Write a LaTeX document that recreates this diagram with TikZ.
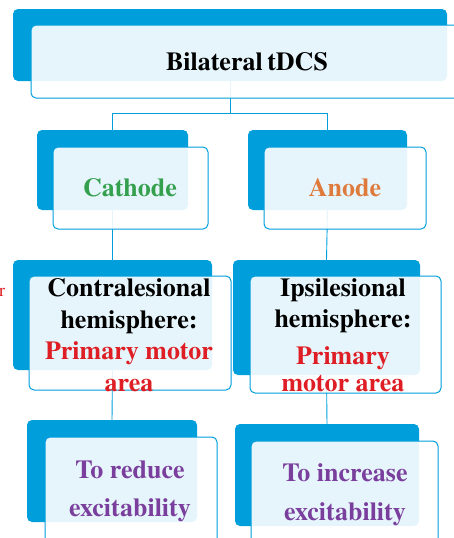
\documentclass[tikz,border=0pt]{standalone}
\usepackage{fontspec}
\setmainfont{TeX Gyre Termes}
\definecolor{tblue}{RGB}{0,158,219}
\definecolor{tgreen}{RGB}{52,160,78}
\definecolor{torange}{RGB}{222,122,60}
\definecolor{tred}{RGB}{222,30,36}
\definecolor{tpurple}{RGB}{122,62,157}
\begin{document}
\begin{tikzpicture}[x=1pt,y=-1pt,
  backbox/.style={fill=tblue, rounded corners=5pt, inner sep=0pt, outer sep=0pt},
  frontbox/.style={draw=tblue, line width=1pt, fill=white, fill opacity=0.9, rounded corners=5pt, inner sep=0pt, outer sep=0pt},
  lbl/.style={font=\rmfamily\bfseries\fontsize{26}{31.5}\selectfont, align=center, inner sep=0pt},
  link/.style={draw=tblue, line width=0.9pt}]
\useasboundingbox (0,0) rectangle (454,538);
\clip (0,0) rectangle (454,538);

% back panels
\node[backbox, minimum width=434pt, minimum height=72pt] (topB) at (230,45) {};
\node[backbox, minimum width=151pt, minimum height=80pt] (catB) at (112.5,170) {};
\node[backbox, minimum width=159pt, minimum height=80pt] (anoB) at (327.5,170) {};
\node[backbox, minimum width=199pt, minimum height=110pt] (conB) at (112.5,315) {};
\node[backbox, minimum width=187pt, minimum height=115pt] (ipsB) at (326.5,317.5) {};
\node[backbox, minimum width=170pt, minimum height=102pt] (redB) at (112,471) {};
\node[backbox, minimum width=184pt, minimum height=102pt] (incB) at (327,475) {};

% connectors
\coordinate (split) at (230,113);
\draw[link] (topB.south) -- (split);
\draw[link] (split) -| (catB.north);
\draw[link] (split) -| (anoB.north);
\draw[link] (catB.south) -- (conB.north);
\draw[link] (anoB.south) -- (ipsB.north);
\draw[link] (conB.south) -- (redB.north);
\draw[link] (ipsB.south) -- (incB.north);

% front panels
\node[frontbox, minimum width=429pt, minimum height=73pt] (topF) at (245.5,61.5) {};
\node[frontbox, minimum width=155pt, minimum height=82pt] (catF) at (130.5,188) {};
\node[frontbox, minimum width=162pt, minimum height=82pt] (anoF) at (345,188) {};
\node[frontbox, minimum width=202pt, minimum height=114pt] (conF) at (130,333) {};
\node[frontbox, minimum width=191pt, minimum height=117pt] (ipsF) at (345.5,334.5) {};
\node[frontbox, minimum width=172pt, minimum height=108pt] (redF) at (131,491) {};
\node[frontbox, minimum width=187pt, minimum height=107pt] (incF) at (344.5,494.5) {};

% labels
\node[lbl] (topT) at (247,62) {Bilateral\hspace{-2pt} tDCS};
\node[lbl, text=tgreen] (catT) at (130,188) {Cathode};
\node[lbl, text=torange] (anoT) at (345,188) {Anode};
\node[lbl] (conT) at (129,335) {Contralesional\\hemisphere:\\\textcolor{tred}{Primary motor}\\\textcolor{tred}{area}};
\node[lbl] (ipsT) at (343,335) {Ipsilesional\\hemisphere:\\[5.5pt]\textcolor{tred}{Primary}\\[-4.5pt]\textcolor{tred}{motor area}};
\node[lbl, text=tpurple, font=\rmfamily\bfseries\fontsize{26}{38.5}\selectfont] (redT) at (130,491.5) {To reduce\\excitability};
\node[lbl, text=tpurple, font=\rmfamily\bfseries\fontsize{26}{39}\selectfont] (incT) at (345,494.5) {To increase\\excitability};

% stray letter at the left margin
\node[font=\rmfamily\fontsize{18}{18}\selectfont, text=tred, inner sep=0pt] (edge) at (2,292) {r};
\end{tikzpicture}
\end{document}
